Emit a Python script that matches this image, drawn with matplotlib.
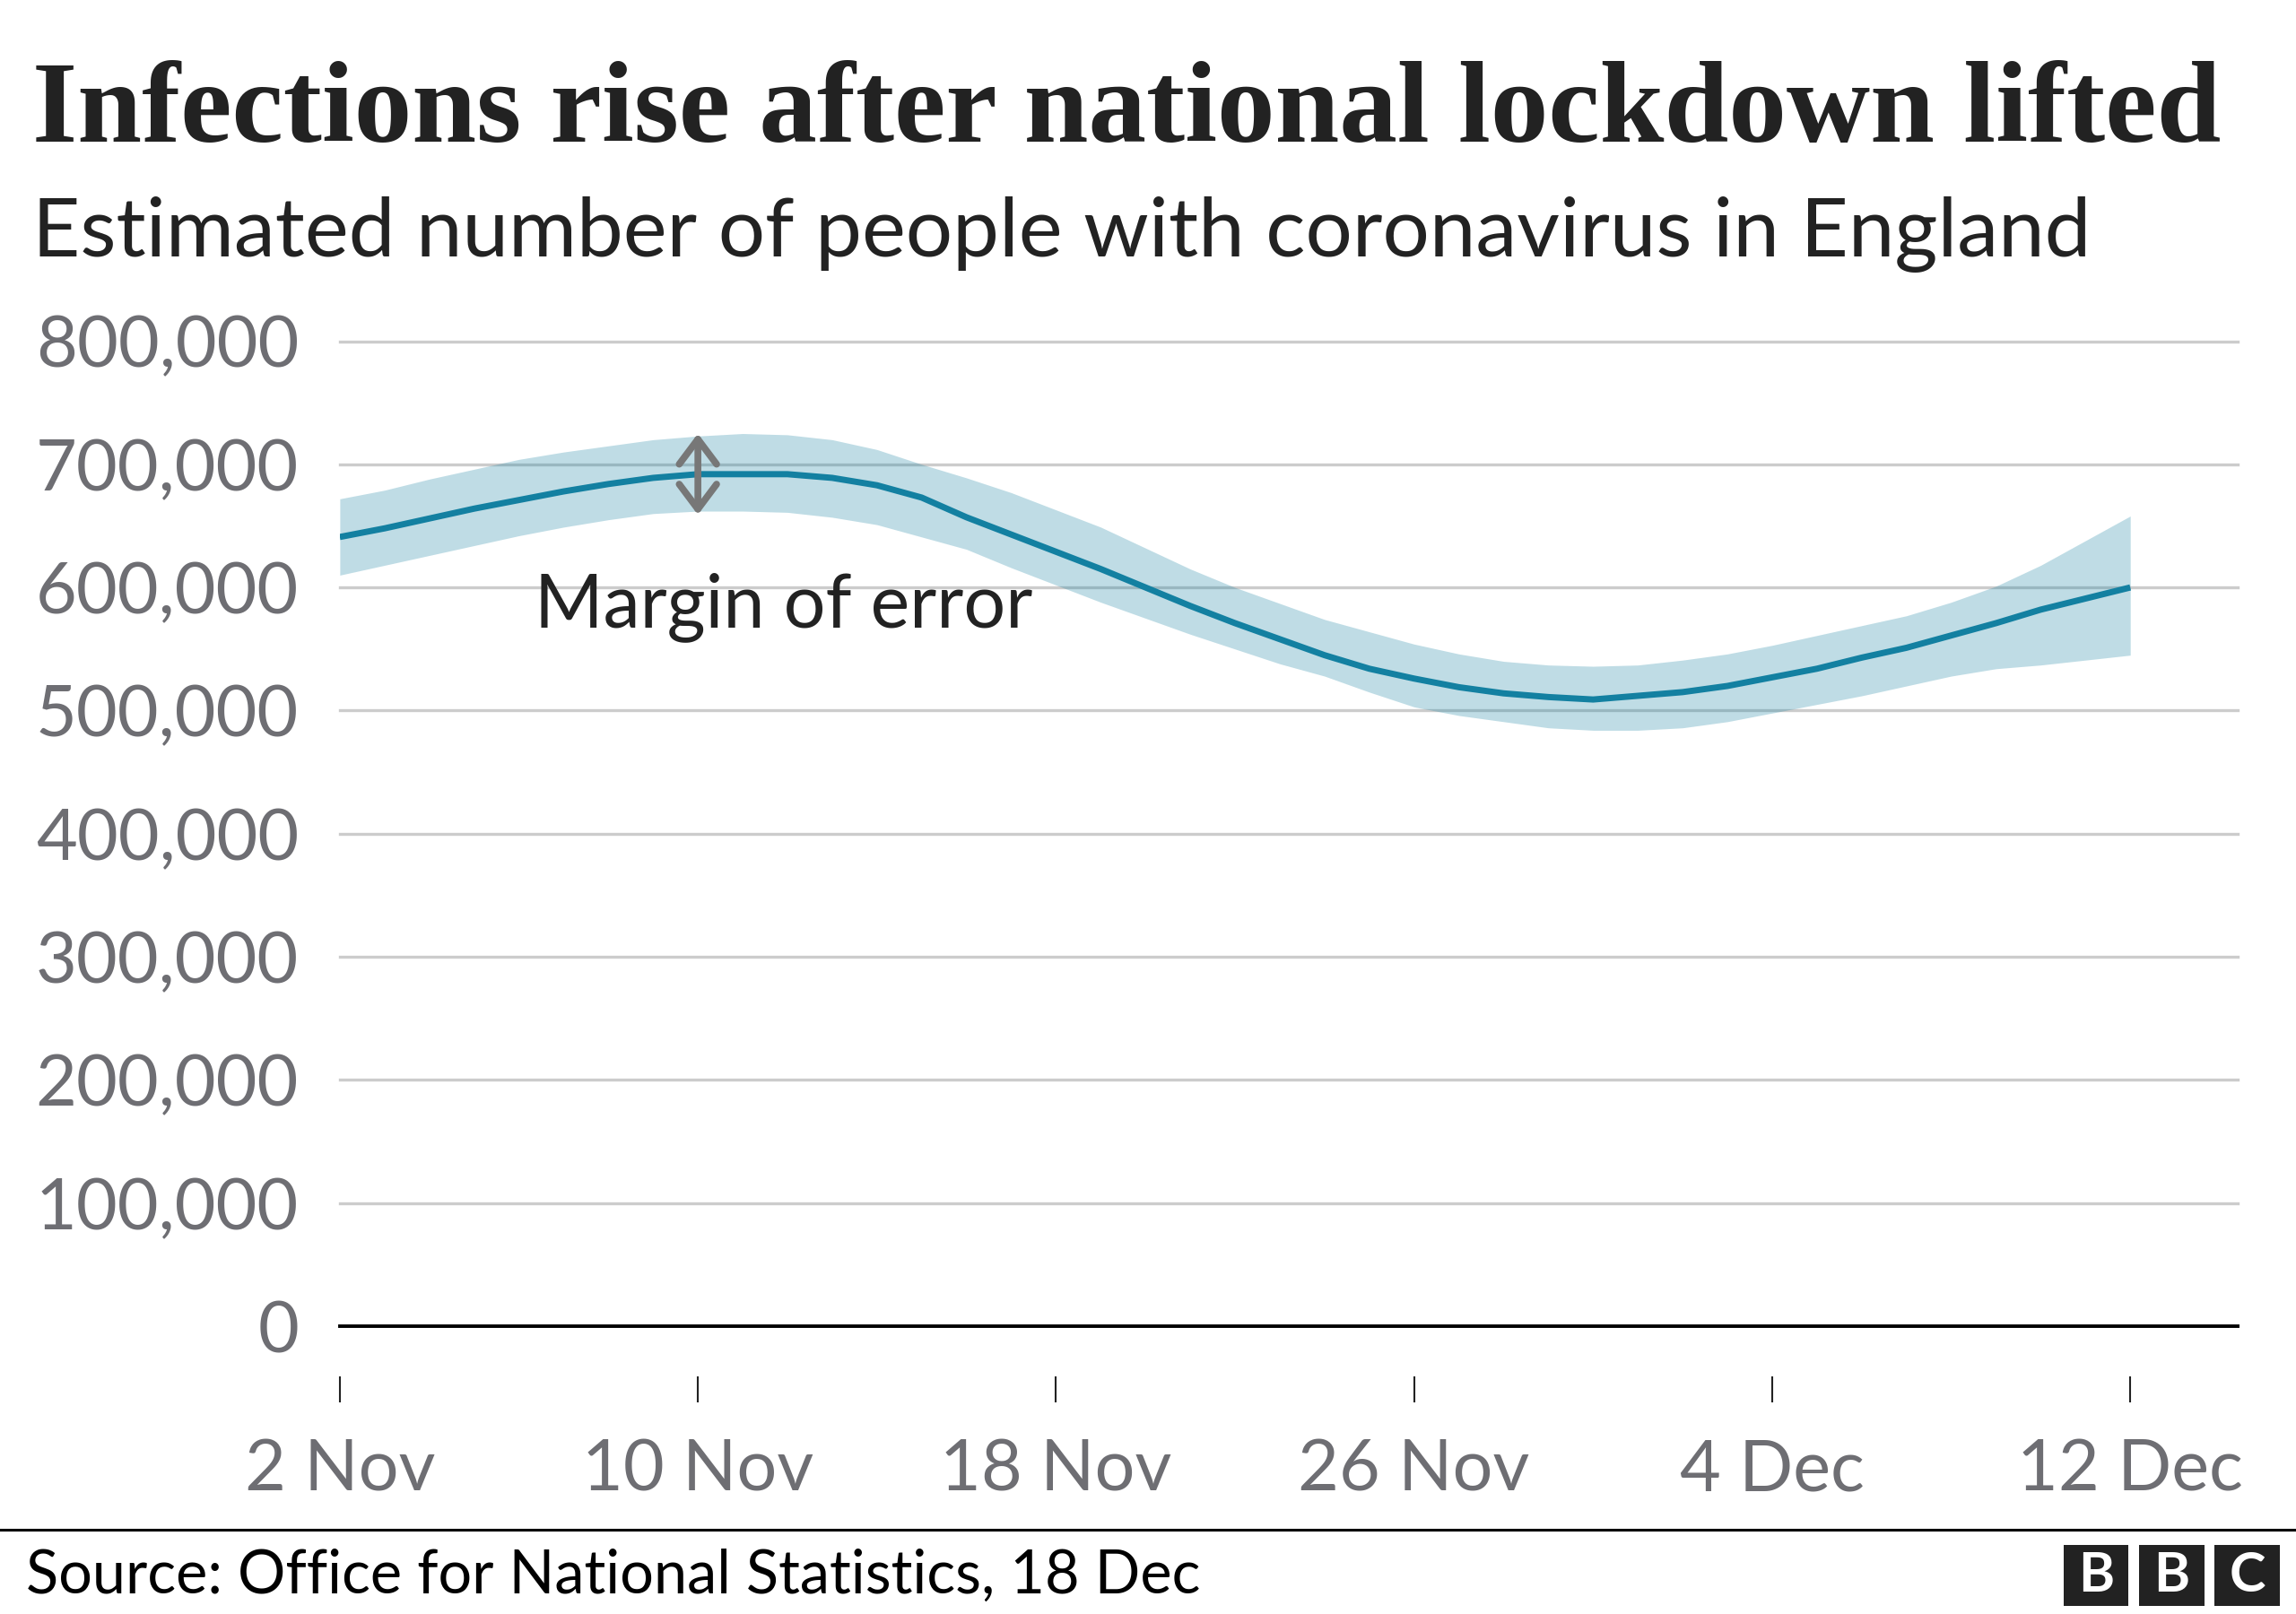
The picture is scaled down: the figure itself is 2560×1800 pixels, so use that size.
#!/usr/bin/env python3

"""BBC style chart: estimated number of people with coronavirus in England."""

import datetime as dt

import matplotlib
matplotlib.use("Agg")
from matplotlib import pyplot as plt
from matplotlib import dates as mdates
from matplotlib.patches import FancyArrowPatch, Rectangle
from matplotlib.ticker import FuncFormatter

# daily estimates, 2 Nov - 12 Dec
start_date = "2020-11-02"
end_date = "2020-12-12"
estimate = [641, 648, 656, 664, 671, 678, 684, 689, 692, 692,
            692, 689, 683, 673, 657, 643, 629, 615, 600, 585,
            571, 558, 545, 534, 526, 519, 514, 511, 509, 512,
            515, 520, 527, 534, 543, 551, 561, 571, 582, 591, 600]
upper = [672, 679, 688, 696, 704, 710, 715, 720, 723, 725,
         724, 720, 712, 700, 689, 677, 663, 649, 632, 615,
         600, 587, 574, 564, 554, 546, 540, 537, 536, 537,
         541, 546, 553, 561, 569, 577, 588, 601, 618, 638, 658]
lower = [610, 618, 626, 634, 642, 649, 655, 660, 662, 662,
         661, 657, 651, 641, 631, 616, 602, 588, 575, 562,
         550, 538, 528, 515, 503, 496, 491, 486, 484, 484,
         486, 491, 498, 505, 512, 520, 528, 534, 537, 541, 545]
y_ticks = [0, 100000, 200000, 300000, 400000, 500000, 600000, 700000, 800000]
x_tick_labels = ["2 Nov", "10 Nov", "18 Nov", "26 Nov", "4 Dec", "12 Dec"]

title = "Infections rise after national lockdown lifted"
subtitle = "Estimated number of people with coronavirus in England"
source = "Source: Office for National Statistics, 18 Dec"
annotation = "Margin of error"

LINE = "#1380A1"
TEXT = "#222222"
GREY = "#6e6e73"
SANS = ["Lato", "DejaVu Sans"]


def to_dates(first, last):
    d0 = dt.date.fromisoformat(first)
    d1 = dt.date.fromisoformat(last)
    return [d0 + dt.timedelta(days=i) for i in range((d1 - d0).days + 1)]


dates = to_dates(start_date, end_date)
xs = mdates.date2num(dates)
est = [v * 1000 for v in estimate]
hi = [v * 1000 for v in upper]
lo = [v * 1000 for v in lower]

fig = plt.figure(figsize=(25.6, 18), dpi=100)
ax = fig.add_axes([0.148, 0.1783, 0.8266, 0.6103])

ax.fill_between(xs, lo, hi, color=LINE, alpha=0.27, linewidth=0, zorder=3)
ax.plot(xs, est, color=LINE, linewidth=5, zorder=4, solid_capstyle="butt")

ax.set_ylim(0, 800000)
ax.set_xlim(xs[0], xs[-1] + 2.4)

# gridlines
for t in y_ticks:
    if t == 0:
        ax.axhline(t, color="black", linewidth=2.8, zorder=5, clip_on=False)
    else:
        ax.axhline(t, color="#cccccc", linewidth=2.4, zorder=1, clip_on=False)

for side in ["left", "right", "top"]:
    ax.spines[side].set_visible(False)
ax.spines["bottom"].set_position(("outward", 40))
ax.spines["bottom"].set_visible(False)

ax.set_yticks(y_ticks)
ax.yaxis.set_major_formatter(FuncFormatter(lambda v, p: "{:,.0f}".format(v)))
ax.tick_params(axis="y", length=0, pad=33, labelsize=57, labelcolor=GREY)

ax.set_xticks(xs[::8])
ax.set_xticklabels(x_tick_labels)
ax.tick_params(axis="x", length=21, width=1.5, color=TEXT, pad=29,
               labelsize=57, labelcolor=GREY)
for lab in ax.get_xticklabels() + ax.get_yticklabels():
    lab.set_family(SANS)

# margin of error arrow at 10 Nov
i = 8
arrow = FancyArrowPatch((xs[i], lo[i] - 3000), (xs[i], hi[i] + 2000),
                        arrowstyle="<->,head_length=20,head_width=15",
                        mutation_scale=1, color="#777777", linewidth=5.5,
                        shrinkA=0, shrinkB=0, zorder=6,
                        capstyle="round", joinstyle="round")
ax.add_patch(arrow)
ax.text(xs[0] + 4.35, 568000, annotation, fontsize=59.5,
        color=TEXT, family=SANS, va="baseline", ha="left", zorder=6)

# headings
fig.text(0.014, 0.912, title, fontsize=93, fontweight="bold", color=TEXT,
         family=["Liberation Serif", "DejaVu Serif"], va="baseline")
fig.text(0.014, 0.841, subtitle, fontsize=66.6, color=TEXT, family=SANS,
         va="baseline")

# footer
fig.add_artist(plt.Line2D([0, 1], [0.0522, 0.0522], color="black",
                          linewidth=2.2, transform=fig.transFigure))
fig.text(0.0115, 0.0128, source, fontsize=48, color="black", family=SANS,
         va="baseline")
for x0, letter in zip([0.8987, 0.9316, 0.9645], "BBC"):
    fig.add_artist(Rectangle((x0, 0.0052), 0.0284, 0.0378, facecolor="#222222",
                             edgecolor="none", transform=fig.transFigure))
    fig.text(x0 + 0.0142, 0.0052 + 0.0189, letter, fontsize=44,
             fontweight="bold", color="white", family=SANS,
             ha="center", va="center")

fig.savefig("out.png", dpi=100, facecolor="white")
